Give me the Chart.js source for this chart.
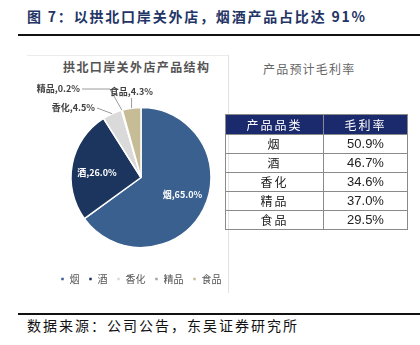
<!DOCTYPE html>
<html><head><meta charset="utf-8">
<script src="https://cdn.jsdelivr.net/npm/chart.js@4/dist/chart.umd.min.js"></script>
<style>
html,body{margin:0;padding:0;background:#fff;}
body{width:420px;height:345px;position:relative;overflow:hidden;font-family:"Noto Sans CJK SC",sans-serif;}
.abs{position:absolute;}
#title{left:27px;top:6px;font-size:14px;font-weight:bold;color:#1f3566;letter-spacing:1.8px;white-space:nowrap;}
#topline{left:18px;top:34px;width:402px;height:2px;background:#111;}
#botline{left:18px;top:313px;width:402px;height:2px;background:#111;}
#source{left:27px;top:315px;font-size:14px;color:#111;letter-spacing:2px;white-space:nowrap;}
#ptop{left:27px;top:55px;width:201px;height:1px;background:#ececec;}
#pv{left:228px;top:55px;width:1px;height:238px;background:#e2e2e2;}
#sub1{left:63px;top:58px;font-size:12px;color:#555;letter-spacing:1.4px;white-space:nowrap;font-weight:bold;}
#sub2{left:263px;top:60px;font-size:12px;color:#666;letter-spacing:1.2px;white-space:nowrap;}
#pie{left:26px;top:40px;}
table{position:absolute;left:225px;top:114px;border-collapse:collapse;width:183px;}
td,th{border:1px solid #8a8a8a;text-align:center;padding:0;height:18px;line-height:18px;}
th{background:#1a2a6c;color:#fff;font-size:12px;font-weight:normal;letter-spacing:2px;height:19px;}
td.c{font-size:12px;color:#222;letter-spacing:2px;}
td.v{font-family:"Liberation Sans",Arial,sans-serif;font-size:13px;color:#222;}
</style></head>
<body>
<div id="title" class="abs">图 7：以拱北口岸关外店，烟酒产品占比达 91%</div>
<div id="topline" class="abs"></div>
<div id="ptop" class="abs"></div>
<div id="pv" class="abs"></div>
<div id="sub1" class="abs">拱北口岸关外店产品结构</div>
<div id="sub2" class="abs">产品预计毛利率</div>
<canvas id="pie" class="abs" width="230" height="260" style="width:230px;height:260px"></canvas>
<table id="tbl"></table>
<div id="botline" class="abs"></div>
<div id="source" class="abs">数据来源：公司公告，东吴证券研究所</div>
<script>
const categories = ["烟","酒","香化","精品","食品"];
const shares = [65.0, 26.0, 4.5, 0.2, 4.3];
const marginCategories = ["烟","酒","香化","精品","食品"];
const margins = [50.9, 46.7, 34.6, 37.0, 29.5];
const tableHeaders = ["产品品类","毛利率"];

// table
const tbl = document.getElementById('tbl');
let html = '<tr><th style="width:97px">'+tableHeaders[0]+'</th><th>'+tableHeaders[1]+'</th></tr>';
marginCategories.forEach((c,i)=>{
  html += '<tr><td class="c">'+c+'</td><td class="v">'+margins[i].toFixed(1)+'%</td></tr>';
});
tbl.innerHTML = html;

const colors = ["#3a6090","#1c355e","#dadada","#a5a5a5","#c6bd97"];

// label placement in page coordinates
const OX = 26, OY = 40;
const labelCfg = [
  {inside:true, r:0.6, dx:4, dy:-2},
  {inside:true, r:0.64, dx:0, dy:3},
  {inside:false, tx:95, ty:108, lx1:97, ly1:108},
  {inside:false, tx:80, ty:89, lx1:82, ly1:89, ex:110, ey:89, elbow:true},
  {inside:false, tx:153, ty:92, lx1:131, ly1:98, vertical:true}
];

const labelPlugin = {
  id:'pieLabels',
  afterDatasetsDraw(chart){
    const ctx = chart.ctx;
    const meta = chart.getDatasetMeta(0);
    ctx.save();
    ctx.font = 'bold 9px "Noto Sans CJK SC"';
    ctx.textBaseline = 'middle';
    meta.data.forEach((arc,i)=>{
      const p = arc.getProps(['x','y','startAngle','endAngle','outerRadius'],true);
      const mid = (p.startAngle+p.endAngle)/2;
      const txt = categories[i]+','+shares[i].toFixed(1)+'%';
      const cfg = labelCfg[i];
      if(cfg.inside){
        const r = p.outerRadius*cfg.r;
        const x = p.x + Math.cos(mid)*r + cfg.dx;
        const y = p.y + Math.sin(mid)*r + cfg.dy;
        ctx.fillStyle = '#ffffff';
        ctx.textAlign = 'center';
        ctx.fillText(txt, x, y);
      } else {
        const ox = p.x + Math.cos(mid)*p.outerRadius;
        const oy = p.y + Math.sin(mid)*p.outerRadius;
        ctx.strokeStyle = '#9a9a9a';
        ctx.lineWidth = 1;
        ctx.beginPath();
        if(cfg.vertical){
          ctx.moveTo(ox, cfg.ly1-OY);
          ctx.lineTo(ox, oy);
        } else {
          ctx.moveTo(cfg.lx1-OX, cfg.ly1-OY);
          if(cfg.elbow) ctx.lineTo(cfg.ex-OX, cfg.ey-OY);
          ctx.lineTo(ox, oy);
        }
        ctx.stroke();
        ctx.fillStyle = '#404040';
        ctx.textAlign = 'right';
        ctx.fillText(txt, cfg.tx-OX, cfg.ty-OY);
      }
    });
    ctx.restore();
  }
};

new Chart(document.getElementById('pie'), {
  type:'pie',
  data:{labels:categories, datasets:[{data:shares, backgroundColor:colors, borderColor:'#ffffff', borderWidth:1.5, radius:70}]},
  options:{
    responsive:false, animation:false,
    layout:{padding:{top:50,bottom:6,left:0,right:0}},
    plugins:{
      tooltip:{enabled:false},
      legend:{position:'bottom', labels:{boxWidth:4, boxHeight:4, padding:9, color:'#555', font:{size:10, family:'"Noto Sans CJK SC"'}}}
    }
  },
  plugins:[labelPlugin]
});
</script>
</body></html>
